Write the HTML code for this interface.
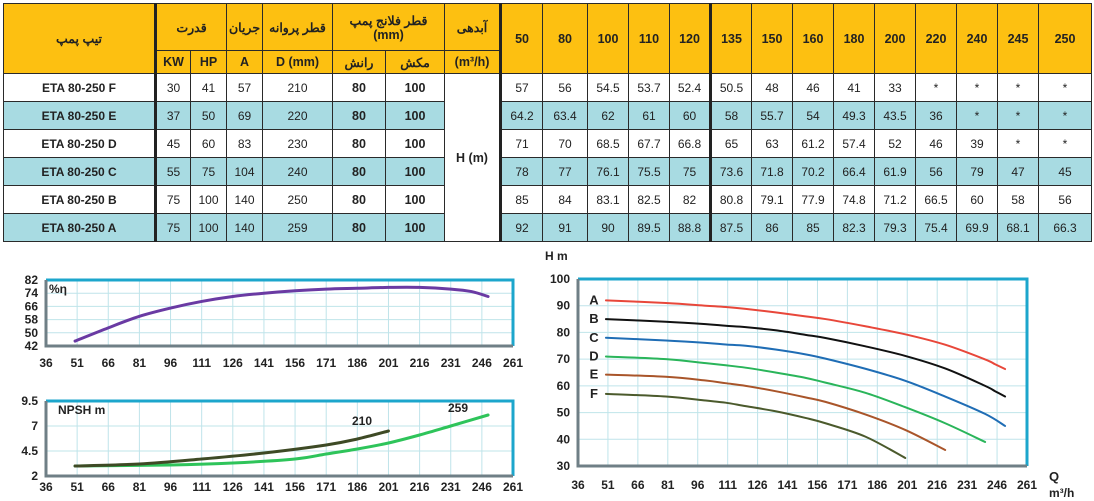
<!DOCTYPE html>
<html><head><meta charset="utf-8">
<style>
body{margin:0;width:1094px;height:501px;background:#fff;position:relative;overflow:hidden;font-family:"Liberation Sans","Noto Sans CJK SC",sans-serif;}
table{position:absolute;left:3px;top:3px;border-collapse:collapse;table-layout:fixed;width:1088px;}
td,th{border:1.5px solid #2a2a2a;text-align:center;padding:0;font-size:12px;color:#222;}
th{background:#fdc011;font-weight:bold;font-size:12.5px;}
tr.h1{height:47px}tr.h2{height:23px}tr.d{height:28px}
tr.t td{background:#a8dbe2}
td.n{font-weight:bold}
td.b{font-weight:bold;font-size:12.5px}
.tk{border-left:3px solid #222}
svg{position:absolute;left:0;top:0}
</style></head><body>
<table>
<colgroup><col style="width:152px"><col style="width:35px"><col style="width:36px"><col style="width:36px"><col style="width:70px"><col style="width:53px"><col style="width:59px"><col style="width:56px"><col style="width:42px"><col style="width:45px"><col style="width:41px"><col style="width:41px"><col style="width:41px"><col style="width:41px"><col style="width:41px"><col style="width:41px"><col style="width:41px"><col style="width:41px"><col style="width:41px"><col style="width:41px"><col style="width:41px"><col style="width:53px"></colgroup>
<tr class="h1">
<th rowspan="2">تیپ پمپ</th>
<th colspan="2" class="tk">قدرت</th>
<th>جریان</th>
<th>قطر پروانه</th>
<th colspan="2">قطر فلانج پمپ<br>(mm)</th>
<th>آبدهی</th>
<th rowspan="2" class="tk">50</th><th rowspan="2">80</th><th rowspan="2">100</th><th rowspan="2">110</th><th rowspan="2">120</th><th rowspan="2" class="tk">135</th><th rowspan="2">150</th><th rowspan="2">160</th><th rowspan="2">180</th><th rowspan="2">200</th><th rowspan="2">220</th><th rowspan="2">240</th><th rowspan="2">245</th><th rowspan="2">250</th>
</tr>
<tr class="h2">
<th class="tk">KW</th><th>HP</th><th>A</th><th>D (mm)</th><th>رانش</th><th>مکش</th><th>(m³/h)</th>
</tr>
<tr class="d"><td class="n">ETA 80-250 F</td><td class="tk">30</td><td>41</td><td>57</td><td>210</td><td class="b">80</td><td class="b">100</td><td rowspan="6" class="b" style="background:#fff">H (m)</td><td class="tk">57</td><td>56</td><td>54.5</td><td>53.7</td><td>52.4</td><td class="tk">50.5</td><td>48</td><td>46</td><td>41</td><td>33</td><td>*</td><td>*</td><td>*</td><td>*</td></tr>
<tr class="d t"><td class="n">ETA 80-250 E</td><td class="tk">37</td><td>50</td><td>69</td><td>220</td><td class="b">80</td><td class="b">100</td><td class="tk">64.2</td><td>63.4</td><td>62</td><td>61</td><td>60</td><td class="tk">58</td><td>55.7</td><td>54</td><td>49.3</td><td>43.5</td><td>36</td><td>*</td><td>*</td><td>*</td></tr>
<tr class="d"><td class="n">ETA 80-250 D</td><td class="tk">45</td><td>60</td><td>83</td><td>230</td><td class="b">80</td><td class="b">100</td><td class="tk">71</td><td>70</td><td>68.5</td><td>67.7</td><td>66.8</td><td class="tk">65</td><td>63</td><td>61.2</td><td>57.4</td><td>52</td><td>46</td><td>39</td><td>*</td><td>*</td></tr>
<tr class="d t"><td class="n">ETA 80-250 C</td><td class="tk">55</td><td>75</td><td>104</td><td>240</td><td class="b">80</td><td class="b">100</td><td class="tk">78</td><td>77</td><td>76.1</td><td>75.5</td><td>75</td><td class="tk">73.6</td><td>71.8</td><td>70.2</td><td>66.4</td><td>61.9</td><td>56</td><td>79</td><td>47</td><td>45</td></tr>
<tr class="d"><td class="n">ETA 80-250 B</td><td class="tk">75</td><td>100</td><td>140</td><td>250</td><td class="b">80</td><td class="b">100</td><td class="tk">85</td><td>84</td><td>83.1</td><td>82.5</td><td>82</td><td class="tk">80.8</td><td>79.1</td><td>77.9</td><td>74.8</td><td>71.2</td><td>66.5</td><td>60</td><td>58</td><td>56</td></tr>
<tr class="d t"><td class="n">ETA 80-250 A</td><td class="tk">75</td><td>100</td><td>140</td><td>259</td><td class="b">80</td><td class="b">100</td><td class="tk">92</td><td>91</td><td>90</td><td>89.5</td><td>88.8</td><td class="tk">87.5</td><td>86</td><td>85</td><td>82.3</td><td>79.3</td><td>75.4</td><td>69.9</td><td>68.1</td><td>66.3</td></tr>
</table>
<svg id="s" width="1094" height="501"></svg>
<script>
const qTicks=[36,51,66,81,96,111,126,141,156,171,186,201,216,231,246,261];
const effTicks=[42,50,58,66,74,82];
const npshTicks=[2,4.5,7,9.5];
const headTicks=[30,40,50,60,70,80,90,100];
const effQ=[50,66,81,96,111,126,141,156,171,186,201,216,231,241,249];
const effV=[45,53,60,65,69,72,74,75.5,76.5,77,77.5,77.5,76.5,75,72];
const n210Q=[50,81,111,141,171,186,201];
const n210V=[3,3.2,3.7,4.3,5.1,5.7,6.5];
const n259Q=[50,96,126,156,171,186,201,216,231,249];
const n259V=[3,3.1,3.3,3.7,4.2,4.7,5.3,6.1,7.0,8.1];
const headNames=['A','B','C','D','E','F'];
const headColors=['#e8473a','#111111','#1f6db5','#2ab55a','#a9552a','#4b5a2c'];
const qA=[50,80,100,110,120,135,150,160,180,200,220,240,245,250];
const hA=[92,91,90,89.5,88.8,87.5,86,85,82.3,79.3,75.4,69.9,68.1,66.3];
const qB=[50,80,100,110,120,135,150,160,180,200,220,240,245,250];
const hB=[85,84,83.1,82.5,82,80.8,79.1,77.9,74.8,71.2,66.5,60,58,56];
const qC=[50,80,100,110,120,135,150,160,180,200,220,240,250];
const hC=[78,77,76.1,75.5,75,73.6,71.8,70.2,66.4,61.9,56,49.5,45];
const qD=[50,80,100,110,120,135,150,160,180,200,220,240];
const hD=[71,70,68.5,67.7,66.8,65,63,61.2,57.4,52,46,39];
const qE=[50,80,100,110,120,135,150,160,180,200,220];
const hE=[64.2,63.4,62,61,60,58,55.7,54,49.3,43.5,36];
const qF=[50,80,100,110,120,135,150,160,180,200];
const hF=[57,56,54.5,53.7,52.4,50.5,48,46,41,33];
const headQ=[qA,qB,qC,qD,qE,qF],headH=[hA,hB,hC,hD,hE,hF];

const S=document.getElementById('s');
function el(t,a,txt){const e=document.createElementNS('http://www.w3.org/2000/svg',t);for(const k in a)e.setAttribute(k,a[k]);if(txt!==undefined)e.textContent=txt;S.appendChild(e);return e;}
function path(pts){let d='M'+pts[0][0]+','+pts[0][1];for(let i=0;i<pts.length-1;i++){const p0=pts[Math.max(i-1,0)],p1=pts[i],p2=pts[i+1],p3=pts[Math.min(i+2,pts.length-1)];d+=' C'+(p1[0]+(p2[0]-p0[0])/6)+','+(p1[1]+(p2[1]-p0[1])/6)+' '+(p2[0]-(p3[0]-p1[0])/6)+','+(p2[1]-(p3[1]-p1[1])/6)+' '+p2[0]+','+p2[1];}return d;}
function chart(name,x0,x1,y0,y1,ymin,ymax,yt,gridY,xLabY){
 const X=q=>x0+(q-36)*(x1-x0)/225, Y=v=>y1-(v-ymin)*(y1-y0)/(ymax-ymin);
 qTicks.forEach(q=>{const l=el('line',{x1:X(q),x2:X(q),y1:y0,y2:y1,stroke:'#bfe4ea','stroke-width':1});
 
 
 const t=el('text',{x:X(q),y:xLabY,'text-anchor':'middle','font-size':12,'font-weight':'bold',fill:'#222'},q);
 
 });
 gridY.forEach(v=>{const l=el('line',{x1:x0,x2:x1,y1:Y(v),y2:Y(v),stroke:'#bfe4ea','stroke-width':1});
 
 });
 yt.forEach(v=>{const t=el('text',{x:x0-8,y:Y(v)+4,'text-anchor':'end','font-size':12,'font-weight':'bold',fill:'#222'},v);
 
 });
 const f1=el('path',{d:`M${x0},${y0} H${x1} V${y1}`,fill:'none',stroke:'#1ca6cc','stroke-width':3});
 
 
 const f2=el('path',{d:`M${x0},${y0} V${y1} H${x1}`,fill:'none',stroke:'#6f7f86','stroke-width':3});
 
 
 return {X,Y};
}
function curve(ax,qs,vs,color,w,name){const p=el('path',{d:path(qs.map((q,i)=>[ax.X(q),ax.Y(vs[i])])),fill:'none',stroke:color,'stroke-width':w,'stroke-linecap':'round'});
 
 }

const e=chart('efficiency',46,513,280,346,42,82,effTicks,[50,58,66,74],367);
curve(e,effQ,effV,'#6a3aa3',3,'efficiency-curve');
let t=el('text',{x:49,y:293,'font-size':12,'font-weight':'bold',fill:'#222'},'%η');



const n=chart('npsh',46,513,401,476,2,9.5,npshTicks,[4.5,7],491);
curve(n,n259Q,n259V,'#2ec45a',3,'npsh-259-curve');
curve(n,n210Q,n210V,'#3e4a25',3,'npsh-210-curve');
t=el('text',{x:58,y:414,'font-size':12,'font-weight':'bold',fill:'#222'},'NPSH m');


t=el('text',{x:352,y:425,'font-size':12,'font-weight':'bold',fill:'#222'},'210');


t=el('text',{x:448,y:412,'font-size':12,'font-weight':'bold',fill:'#222'},'259');



const h=chart('head',578,1027,279,466,30,100,headTicks,[40,50,60,70,80,90],489);
headNames.forEach((nm,i)=>{curve(h,headQ[i],headH[i],headColors[i],2,'head-curve-'+nm.toLowerCase());
 const l=el('text',{x:h.X(headQ[i][0])-12,y:h.Y(headH[i][0])+4,'text-anchor':'middle','font-size':13,'font-weight':'bold',fill:'#222'},nm);
 
 });
t=el('text',{x:545,y:260,'font-size':12,'font-weight':'bold',fill:'#222'},'H m');


t=el('text',{x:1049,y:481,'font-size':13,'font-weight':'bold',fill:'#222'},'Q');


t=el('text',{x:1049,y:497,'font-size':12,'font-weight':'bold',fill:'#222'},'m³/h');


</script>
</body></html>
